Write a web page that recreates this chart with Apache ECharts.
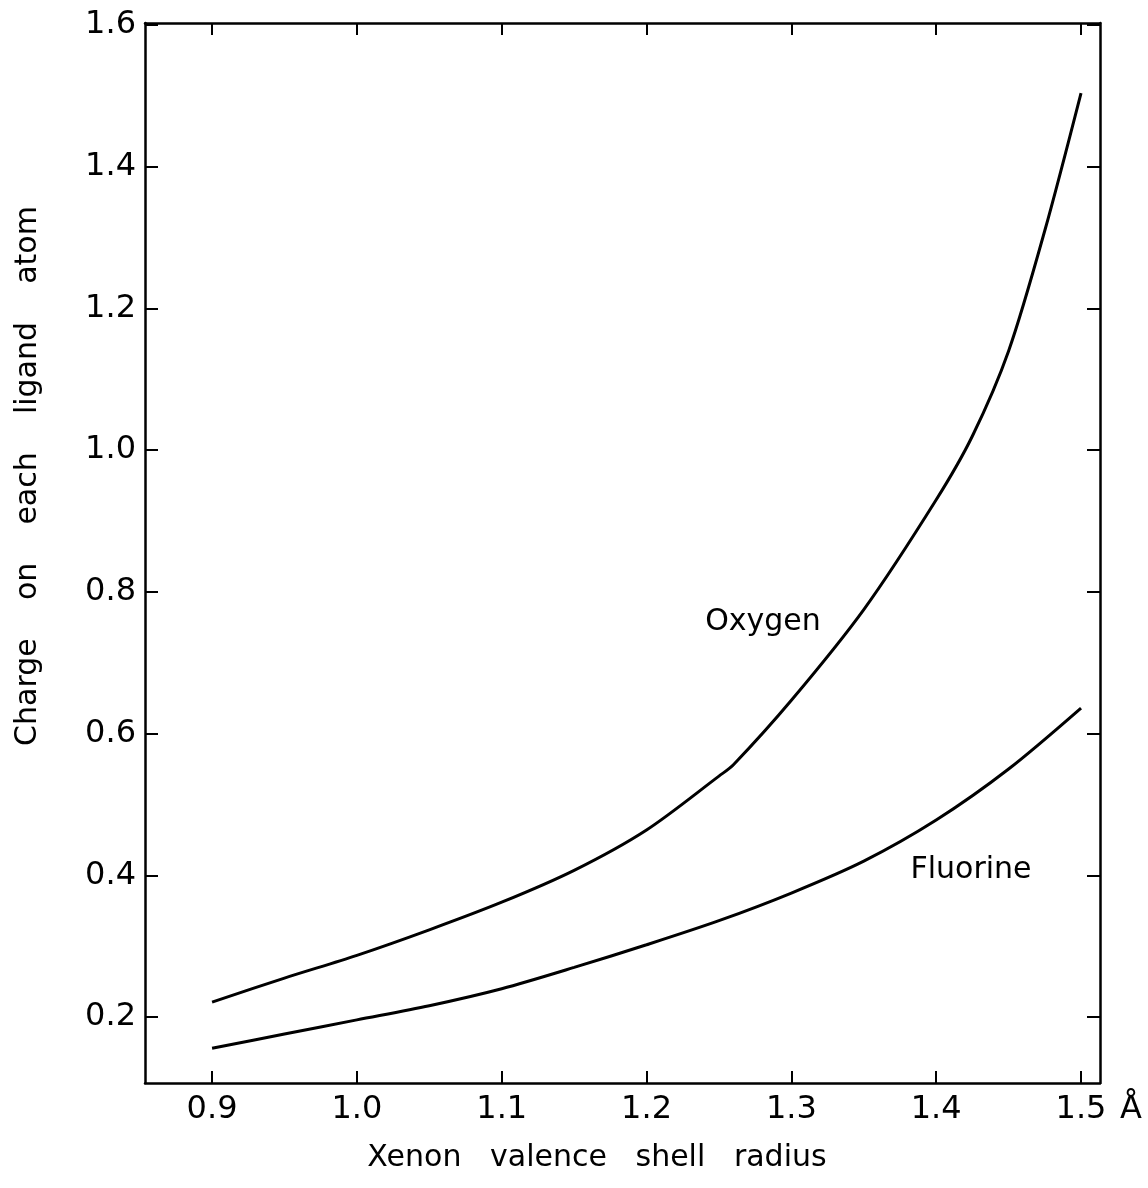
<!DOCTYPE html>
<html>
<head>
<meta charset="utf-8">
<script src="https://cdn.jsdelivr.net/npm/echarts@6/dist/echarts.min.js"></script>
<style>
  html, body { margin: 0; padding: 0; background: #fff; }
  #chart { width: 1148px; height: 1188px; }
</style>
</head>
<body>
<div id="chart"></div>
<script>
// 刻度
var xTicks = [0.9, 1.0, 1.1, 1.2, 1.3, 1.4, 1.5];
var yTicks = [0.2, 0.4, 0.6, 0.8, 1.0, 1.2, 1.4, 1.6];

// Oxygen 曲线
var oxygenX = [0.9, 0.95, 1.0, 1.05, 1.1, 1.15, 1.2, 1.25, 1.26, 1.3, 1.35, 1.4, 1.425, 1.45, 1.475, 1.5];
var oxygenY = [0.221, 0.255, 0.287, 0.323, 0.362, 0.407, 0.464, 0.54, 0.556, 0.647, 0.775, 0.93, 1.02, 1.14, 1.31, 1.504];

// Fluorine 曲线
var fluorineX = [0.9, 0.95, 1.0, 1.05, 1.1, 1.15, 1.2, 1.25, 1.3, 1.35, 1.4, 1.45, 1.5];
var fluorineY = [0.156, 0.176, 0.196, 0.216, 0.24, 0.27, 0.302, 0.336, 0.375, 0.42, 0.478, 0.55, 0.636];

function pairs(xs, ys) {
  return xs.map(function (x, i) { return [x, ys[i]]; });
}

var font = 'DejaVu Sans';

var chart = echarts.init(document.getElementById('chart'));

var baseX = {
  type: 'value',
  min: 0.8537,
  max: 1.5131,
  axisLine: { show: true, onZero: false, lineStyle: { color: '#000', width: 2.5 } },
  axisTick: { show: true, inside: true, length: 12, customValues: xTicks, lineStyle: { color: '#000', width: 2 } },
  splitLine: { show: false }
};
var baseY = {
  type: 'value',
  min: 0.1069,
  max: 1.6028,
  axisLine: { show: true, onZero: false, lineStyle: { color: '#000', width: 2.5 } },
  axisTick: { show: true, inside: true, length: 13, customValues: yTicks, lineStyle: { color: '#000', width: 2 } },
  splitLine: { show: false }
};

var option = {
  backgroundColor: '#fff',
  animation: false,
  grid: { left: 145, top: 23, right: 48, bottom: 105 },
  xAxis: [
    Object.assign({}, baseX, {
      position: 'bottom',
      axisLabel: {
        customValues: xTicks, margin: 11,
        fontFamily: font, fontSize: 32, color: '#000',
        formatter: function (v) { return v.toFixed(1); }
      }
    }),
    Object.assign({}, baseX, { position: 'top', axisLabel: { show: false } })
  ],
  yAxis: [
    Object.assign({}, baseY, {
      position: 'left',
      axisLabel: {
        customValues: yTicks, margin: 9,
        fontFamily: font, fontSize: 32, color: '#000',
        formatter: function (v) { return v.toFixed(1); }
      }
    }),
    Object.assign({}, baseY, { position: 'right', axisLabel: { show: false } })
  ],
  series: [
    {
      name: 'Oxygen', type: 'line', xAxisIndex: 0, yAxisIndex: 0,
      data: pairs(oxygenX, oxygenY), smooth: 0.3, showSymbol: false,
      lineStyle: { color: '#000', width: 3 }
    },
    {
      name: 'Fluorine', type: 'line', xAxisIndex: 0, yAxisIndex: 0,
      data: pairs(fluorineX, fluorineY), smooth: 0.3, showSymbol: false,
      lineStyle: { color: '#000', width: 3 }
    }
  ],
  graphic: [
    { type: 'text', x: 763, y: 622, style: { text: 'Oxygen', fontFamily: font, fontSize: 30, fill: '#000', textAlign: 'center', textVerticalAlign: 'middle' } },
    { type: 'text', x: 971, y: 870, style: { text: 'Fluorine', fontFamily: font, fontSize: 30, fill: '#000', textAlign: 'center', textVerticalAlign: 'middle' } },
    { type: 'text', x: 1131, y: 1110, style: { text: 'Å', fontFamily: font, fontSize: 32, fill: '#000', textAlign: 'center', textVerticalAlign: 'middle' } },
    { type: 'text', x: 597, y: 1158, style: { text: 'Xenon   valence   shell   radius', fontFamily: font, fontSize: 30, fill: '#000', textAlign: 'center', textVerticalAlign: 'middle' } },
    { type: 'text', x: 28, y: 476, rotation: Math.PI / 2, style: { text: 'Charge    on    each    ligand    atom', fontFamily: font, fontSize: 30, fill: '#000', textAlign: 'center', textVerticalAlign: 'middle' } }
  ]
};

chart.setOption(option);
</script>
</body>
</html>
